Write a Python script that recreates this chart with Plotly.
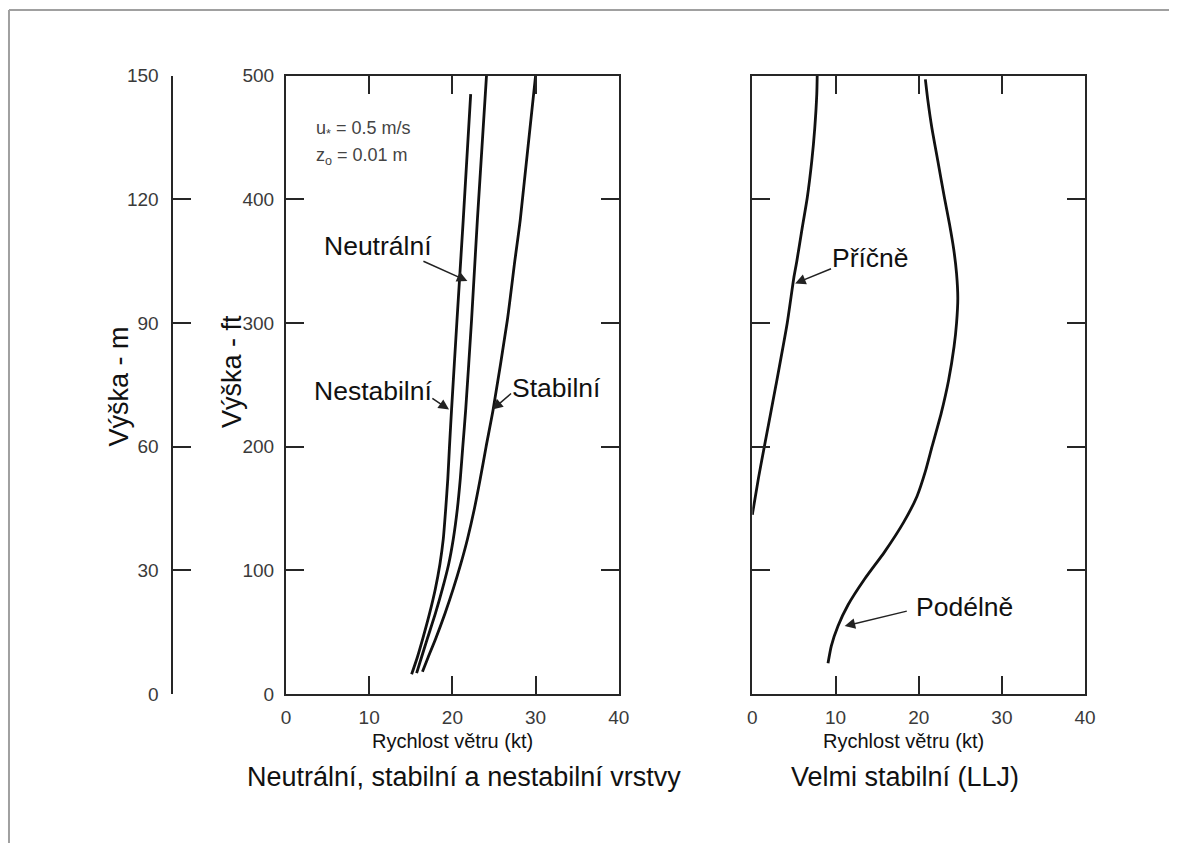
import plotly.graph_objects as go

# ---- data (x = wind speed in kt, y = height in ft) ----
unstable_ft = [16, 30, 45, 65, 85, 105, 125, 150, 174, 200, 230, 302, 383, 485]
unstable_kt = [15.1, 15.8, 16.45, 17.25, 17.95, 18.5, 18.9, 19.2, 19.45, 19.65, 19.9, 20.55, 21.3, 22.2]

neutral_ft = [17, 30, 45, 65, 85, 105, 125, 150, 174, 200, 230, 302, 383, 500]
neutral_kt = [15.7, 16.3, 17.0, 17.95, 18.8, 19.55, 20.1, 20.6, 20.95, 21.25, 21.6, 22.3, 23.0, 24.1]

stable_ft = [18, 30, 45, 65, 85, 105, 125, 150, 174, 200, 230, 302, 350, 383, 500]
stable_kt = [16.4, 17.1, 18.0, 19.1, 20.1, 21.0, 21.8, 22.65, 23.35, 24.05, 24.9, 26.6, 27.5, 28.15, 30.0]

cross_ft = [145, 175, 202, 250, 300, 337, 350, 377, 401, 431, 457, 485, 500]
cross_kt = [0.0, 0.75, 1.5, 2.85, 4.2, 5.0, 5.35, 6.0, 6.6, 7.15, 7.5, 7.75, 7.8]

along_ft = [25, 39, 55, 72, 93, 115, 139, 160, 180, 200, 227, 254, 281, 300, 320, 340, 360, 380, 401, 431, 457, 480, 497]
along_kt = [9.1, 9.5, 10.3, 11.5, 13.5, 15.9, 18.2, 19.8, 20.8, 21.6, 22.7, 23.6, 24.25, 24.55, 24.7, 24.55, 24.2, 23.7, 23.1, 22.3, 21.6, 21.1, 20.8]

x_ticks = [0, 10, 20, 30, 40]
ft_ticks = [0, 100, 200, 300, 400, 500]
m_ticks = [0, 30, 60, 90, 120, 150]

W, H = 1180, 854
FONT = "Liberation Sans, Arial, sans-serif"
TICKC = "#3a3a3a"
AXC = "#262626"
SX, SY, OX, OY = 0.99, 0.981, 4.0, 8.0   # compensation for how the page is photographed


def px(v):
    return ((v - OX) / SX) / W


def py(v):
    return 1 - ((v - OY) / SY) / H


fig = go.Figure()
line = dict(color="#111111", width=2.8, shape="spline", smoothing=0.6)
for xs, ys in [(unstable_kt, unstable_ft), (neutral_kt, neutral_ft), (stable_kt, stable_ft)]:
    fig.add_trace(go.Scatter(x=xs, y=ys, mode="lines", line=line, xaxis="x", yaxis="y",
                             showlegend=False, hoverinfo="skip"))
for xs, ys in [(cross_kt, cross_ft), (along_kt, along_ft)]:
    fig.add_trace(go.Scatter(x=xs, y=ys, mode="lines", line=line, xaxis="x2", yaxis="y2",
                             showlegend=False, hoverinfo="skip"))
# invisible trace for the metre axis
fig.add_trace(go.Scatter(x=[None, None], y=[m_ticks[0], m_ticks[-1]], mode="lines",
                         xaxis="x", yaxis="y3", showlegend=False, hoverinfo="skip",
                         line=dict(color="rgba(0,0,0,0)")))

ydom = [py(696), py(74)]
TF = dict(family=FONT, size=19, color=TICKC)
common_ax = dict(showgrid=False, zeroline=False, showline=True, linecolor=AXC, linewidth=2,
                 ticks="inside", ticklen=18, tickwidth=2, tickcolor=AXC,
                 tickfont=TF, mirror="ticks")

fig.update_layout(
    width=W, height=H, margin=dict(l=0, r=0, t=0, b=0),
    paper_bgcolor="white", plot_bgcolor="white",
    xaxis=dict(domain=[px(286), px(620)], range=[0, 40], tickvals=x_ticks, anchor="y",
               ticklabelstandoff=5, **common_ax),
    yaxis=dict(domain=ydom, range=[0, 500], tickvals=ft_ticks, anchor="x",
               ticklabelstandoff=6, **common_ax),
    xaxis2=dict(domain=[px(754), px(1088)], range=[0, 40], tickvals=x_ticks, anchor="y2",
                ticklabelstandoff=5, **common_ax),
    yaxis2=dict(domain=ydom, range=[0, 500], tickvals=ft_ticks, anchor="x2",
                showticklabels=False, **common_ax),
    yaxis3=dict(overlaying="y", anchor="free", position=px(172), side="left",
                range=[0, 150], tickvals=m_ticks, showgrid=False, zeroline=False,
                showline=True, linecolor=AXC, linewidth=2, ticks="inside", ticklen=18,
                tickwidth=2, tickcolor=AXC, ticklabelstandoff=9, tickfont=TF),
)


def ptext(text, x, y, size, color="#111", angle=0, xanchor="center"):
    return dict(text=text, x=px(x), y=py(y), xref="paper", yref="paper", showarrow=False,
                xanchor=xanchor, yanchor="middle", textangle=angle,
                font=dict(family=FONT, size=size, color=color))


ann = []
ann.append(ptext("Výška - m", 118, 387, 27, angle=-90))
ann.append(ptext("Výška - ft", 232, 372, 27, angle=-90))
ann.append(ptext("Rychlost větru (kt)", 453, 743, 20))
ann.append(ptext("Rychlost větru (kt)", 906, 743, 20))
ann.append(ptext("Neutrální, stabilní a nestabilní vrstvy", 465, 779, 27))
ann.append(ptext("Velmi stabilní (LLJ)", 907, 779, 27))
ann.append(ptext("u<sub>*</sub> = 0.5 m/s", 314, 128, 18, color="#444", xanchor="left"))
ann.append(ptext("z<sub>o</sub> = 0.01 m", 314, 155, 18, color="#444", xanchor="left"))
# curve labels
ann.append(ptext("Neutrální", 378, 245, 26.5))
ann.append(ptext("Nestabilní", 373, 391, 26.5))
ann.append(ptext("Stabilní", 557, 388, 26.5))
ann.append(ptext("Příčně", 873, 257, 26.5))
ann.append(ptext("Podélně", 967, 608, 26.5))

# arrows: tip in data units, tail as pixel offset (tail - tip)
arrow_style = dict(text="", showarrow=True, arrowhead=2, arrowsize=1.4, arrowwidth=1.5,
                   arrowcolor="#222")
arrows = [
    ("x", "y", 21.8, 334, 423 - 468, 260 - 280),
    ("x", "y", 19.6, 230, 432 - 450, 398 - 410),
    ("x", "y", 24.8, 230, 513 - 493, 393 - 410),
    ("x2", "y2", 5.15, 332, 834 - 797, 268 - 283),
    ("x2", "y2", 11.1, 55, 910 - 847, 612 - 627),
]
for xr, yr, xt, yt, dx, dy in arrows:
    ann.append(dict(x=xt, y=yt, xref=xr, yref=yr, ax=dx / SX, ay=dy / SY, **arrow_style))
fig.update_layout(annotations=ann)

# outer frame (top and left edges)
frame = dict(color="#a0a0a0", width=2)
fig.add_shape(type="line", xref="paper", yref="paper", x0=px(8), y0=py(8), x1=1, y1=py(8), line=frame)
fig.add_shape(type="line", xref="paper", yref="paper", x0=px(8), y0=py(8), x1=px(8), y1=0, line=frame)

fig.write_html(
    "out.html",
    config={"responsive": False, "displayModeBar": False},
    post_script="document.body.style.margin='0';document.body.style.padding='0';"
                "document.body.style.overflow='hidden';",
)
